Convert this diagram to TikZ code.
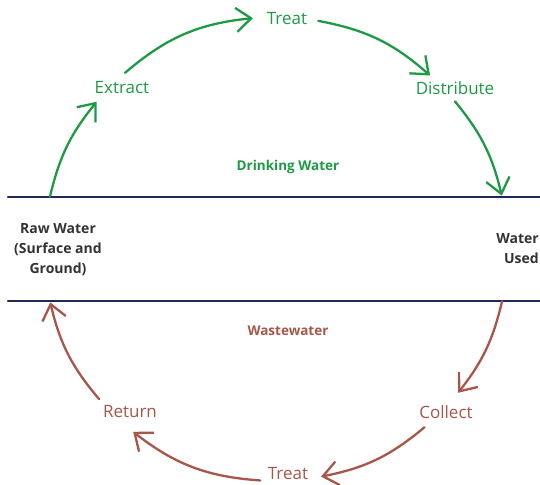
\documentclass[tikz,border=0pt]{standalone}
\usepackage{fontspec}
\setmainfont{Open Sans}
\usetikzlibrary{arrows.meta,positioning}
\definecolor{drink}{HTML}{1E9A45}
\definecolor{waste}{HTML}{A8564B}
\definecolor{navy}{HTML}{1F2A52}
\definecolor{ink}{HTML}{333333}
\tikzset{
  every picture/.style={line cap=round, line join=round},
  flow/.style={line width=2.3pt, -{Straight Barb[length=15pt,width=24pt]}},
  stage/.style={font=\fontsize{17}{20}\selectfont, inner sep=1pt},
  phase/.style={font=\fontsize{13.5}{16}\selectfont\bfseries, inner sep=1pt},
  source/.style={font=\fontsize{14}{20}\selectfont\bfseries, text=ink, align=center, inner sep=0pt},
  divider/.style={navy, line width=2.5pt},
}

\begin{document}
\begin{tikzpicture}[x=1pt,y=1pt]
    \useasboundingbox (0,0) rectangle (540,-484);
    % Dividing lines
    \draw[divider] (8,-197) -- (540,-197);
    \draw[divider] (8,-301) -- (540,-301);
    % Labels
    \node[stage, text=drink] (extract) at (122,-88) {Extract};
    \node[stage, text=drink] (treattop) at (287,-19) {Treat};
    \node[stage, text=drink] (distribute) at (455,-88) {Distribute};
    \node[stage, text=waste] (collect) at (446,-412) {Collect};
    \node[stage, text=waste] (treatbot) at (288,-474) {Treat};
    \node[stage, text=waste] (return) at (130,-412) {Return};
    \node[phase, text=drink] (drinking) at (288,-167) {Drinking Water};
    \node[phase, text=waste] (wastewater) at (288,-331) {Wastewater};
    \node[source] (raw) at (58,-250) {Raw Water\\(Surface and\\Ground)};
    \node[source, align=right, anchor=east] (used) at (539,-249) {Water\\Used};
    % Arrow ends on the cycle
    \coordinate (hub) at (276,-249);
    \foreach \nm/\ang in {g1s/167, g1e/140.6, g2s/130.6, g2e/95.7, g3s/79.5, g3e/48.4,
                          g4s/39.5, g4e/13.3, w1s/-13, w1e/-38.3, w2s/-50.2, w2e/-78.8,
                          w3s/-93.9, w3e/-128, w4s/-139.7, w4e/-166.7}
      \coordinate (\nm) at ([shift={(\ang:232)}]hub);
    % Drinking water arrows
    \draw[flow, drink] (g1s) to[bend left=13] (g1e);
    \draw[flow, drink] (g2s) to[bend left=17.5] (g2e);
    \draw[flow, drink] (g3s) to[bend left=15.5] (g3e);
    \draw[flow, drink] (g4s) to[bend left=13] (g4e);
    % Wastewater arrows
    \draw[flow, waste] (w1s) to[bend left=12.5] (w1e);
    \draw[flow, waste] (w2s) to[bend left=14.5] (w2e);
    \draw[flow, waste] (w3s) to[bend left=17] (w3e);
    \draw[flow, waste] (w4s) to[bend left=13.5] (w4e);
\end{tikzpicture}
\end{document}
